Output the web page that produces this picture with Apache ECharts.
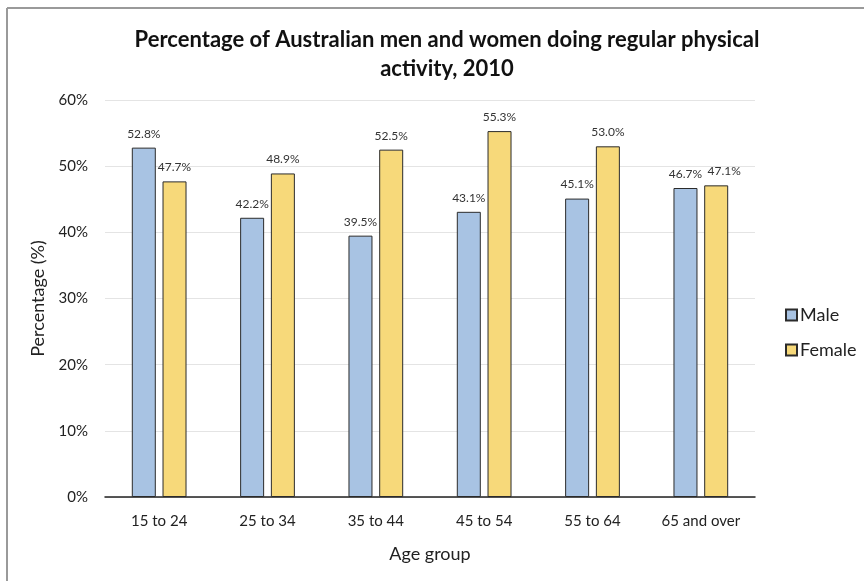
<!DOCTYPE html>
<html>
<head>
<meta charset="utf-8">
<script src="https://cdn.jsdelivr.net/npm/echarts@6/dist/echarts.min.js"></script>
<style>
  html, body { margin: 0; padding: 0; background: #fff; }
  #chart { width: 864px; height: 581px; }
</style>
</head>
<body>
<div id="chart"></div>
<script>
// Regular physical activity by age group, Australia 2010
const ageGroups = ['15 to 24', '25 to 34', '35 to 44', '45 to 54', '55 to 64', '65 and over'];
const maleValues = [52.8, 42.2, 39.5, 43.1, 45.1, 46.7];
const femaleValues = [47.7, 48.9, 52.5, 55.3, 53.0, 47.1];
const yTicks = [0, 10, 20, 30, 40, 50, 60];

const FONT = 'Lato, "Open Sans", sans-serif';

const chart = echarts.init(document.getElementById('chart'), null, { renderer: 'canvas' });

const labelStyle = {
  show: true,
  position: 'top',
  distance: 8,
  fontFamily: FONT,
  fontSize: 12,
  color: '#333',
  formatter: p => p.value.toFixed(1) + '%'
};

// the last female label is nudged right so it clears its neighbour
const femaleData = femaleValues.map((v, i) =>
  i === femaleValues.length - 1 ? { value: v, label: { offset: [8, 0] } } : v
);

chart.setOption({
  animation: false,
  backgroundColor: '#fff',
  title: {
    text: 'Percentage of Australian men and women doing regular physical\nactivity, 2010',
    left: 442,
    textAlign: 'center',
    top: 20,
    textStyle: {
      fontFamily: FONT,
      fontWeight: 'bold',
      fontSize: 22,
      lineHeight: 29,
      color: '#111'
    }
  },
  graphic: [
    // chart frame (left and top edges)
    { type: 'line', shape: { x1: 7, y1: 8, x2: 7, y2: 581 }, style: { stroke: '#9a9a9a', lineWidth: 2 } },
    { type: 'line', shape: { x1: 7, y1: 8, x2: 864, y2: 8 }, style: { stroke: '#9a9a9a', lineWidth: 2 } }
  ],
  legend: {
    orient: 'vertical',
    left: 780,
    top: 301,
    icon: 'rect',
    itemWidth: 11,
    itemHeight: 11,
    itemGap: 17,
    textStyle: { fontFamily: FONT, fontSize: 18, color: '#222', padding: [0, 0, 0, -2] },
    data: ['Male', 'Female']
  },
  grid: { left: 105, right: 109, top: 100, bottom: 84 },
  xAxis: {
    type: 'category',
    data: ageGroups,
    name: 'Age group',
    nameLocation: 'middle',
    nameGap: 48,
    nameTextStyle: { fontFamily: FONT, fontSize: 18, color: '#222' },
    axisLine: { lineStyle: { color: '#222', width: 1.5 } },
    axisTick: { show: false },
    axisLabel: { fontFamily: FONT, fontSize: 15, color: '#222', margin: 17 }
  },
  yAxis: {
    type: 'value',
    min: 0,
    max: 60,
    interval: 10,
    name: 'Percentage (%)',
    nameLocation: 'middle',
    nameGap: 54,
    nameTextStyle: { fontFamily: FONT, fontSize: 18, color: '#222' },
    axisLine: { show: false },
    axisTick: { show: false },
    axisLabel: {
      fontFamily: FONT, fontSize: 15, color: '#222', margin: 17,
      formatter: v => yTicks.includes(v) ? v + '%' : ''
    },
    splitLine: { lineStyle: { color: '#e4e4e4', width: 1 } }
  },
  series: [
    {
      name: 'Male',
      type: 'bar',
      data: maleValues,
      barWidth: 24,
      barGap: '28%',
      itemStyle: { color: '#a8c3e3', borderColor: '#2b2b2b', borderWidth: 1 },
      label: labelStyle
    },
    {
      name: 'Female',
      type: 'bar',
      data: femaleData,
      barWidth: 24,
      itemStyle: { color: '#f7d97a', borderColor: '#2b2b2b', borderWidth: 1 },
      label: labelStyle
    }
  ]
});
</script>
</body>
</html>
